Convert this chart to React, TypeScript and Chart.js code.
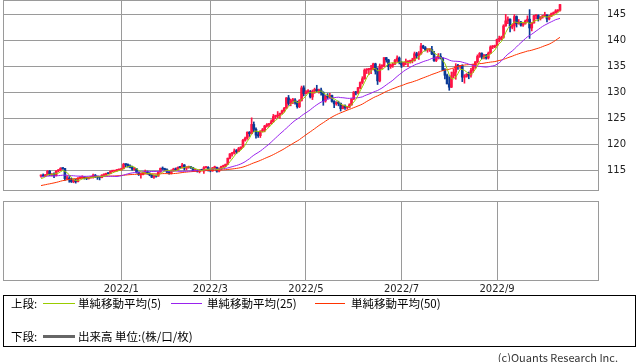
import React, { useEffect, useRef } from 'react';
import { Chart, registerables } from 'chart.js';

Chart.register(...registerables);

// ---- categories: trading weekdays (first 17 and last 17 slots are empty)
const START_DATE = '2021-10-19';
const LEAD_SLOTS = 17;
const TOTAL_SLOTS = 274;

const monthTicks: { date: string; label: string }[] = [
  { date: '2022-01-03', label: '2022/1' },
  { date: '2022-03-01', label: '2022/3' },
  { date: '2022-05-02', label: '2022/5' },
  { date: '2022-07-01', label: '2022/7' },
  { date: '2022-09-01', label: '2022/9' },
];

const yTicks = [115, 120, 125, 130, 135, 140, 145];
const Y_MIN = 111.21;
const Y_MAX = 147.75;

// closes before the first visible candle (needed for the moving averages)
const priorCloses = [
  109.71, 109.83, 110.27, 110.25, 109.71, 109.93, 110.03, 109.68, 109.37, 109.72, 109.95, 109.40, 109.23, 109.78, 110.30, 110.74, 110.99, 111.50, 111.98, 111.29,
  111.05, 110.93, 111.44, 111.39, 111.63, 112.24, 113.30, 113.60, 113.26, 113.68, 114.21, 114.35, 114.39, 114.29, 114.01, 113.47, 113.69, 114.14, 113.84, 113.58, 113.95,
  114.02, 113.95, 114.07, 113.76, 113.40, 112.94, 112.87, 113.90,
];

const opens = [
  113.90, 114.07, 113.89, 114.14, 114.81, 114.09, 114.26, 114.00, 114.88, 115.09, 115.38, 115.35, 113.38, 113.48,
  113.16, 112.79, 113.12, 112.80, 113.48, 113.55, 113.72, 113.48, 113.40, 113.56, 113.72, 114.05, 113.73, 113.69, 113.58, 114.08, 114.12, 114.42, 114.37, 114.83, 114.84, 114.96, 115.08,
  115.08, 115.30, 116.13, 116.11, 115.84, 115.56, 115.20, 115.29, 114.63, 114.18, 114.20, 114.61, 114.62, 114.32, 114.13, 113.67, 113.98, 113.88, 114.67, 115.36, 115.23,
  115.11, 114.67, 114.43, 114.97, 115.24, 115.09, 115.57, 115.55, 116.03, 115.42, 115.58, 115.68, 115.47, 114.92, 115.01, 114.76, 115.03, 115.00, 115.51, 115.56,
  114.98, 114.89, 115.49, 115.54, 114.83, 115.30, 115.73, 115.87, 116.16, 117.33, 118.16, 118.31, 118.70, 118.59, 119.16, 119.48, 120.75, 121.17, 122.32, 122.04, 123.82, 122.89, 121.77,
  121.66, 122.53, 122.79, 123.53, 123.78, 123.98, 124.35, 125.34, 125.40, 125.64, 125.96, 126.44, 126.95, 128.92, 127.85, 128.40, 128.52, 128.11, 127.23, 128.43, 130.85,
  129.75, 130.11, 130.11, 129.10, 130.21, 130.55, 130.27, 130.43, 129.93, 128.34, 129.20, 129.08, 129.38, 128.25, 127.77, 127.87, 127.86, 126.87, 127.35, 127.08, 127.12, 127.58,
  128.69, 130.02, 129.88, 130.88, 131.89, 132.60, 134.27, 134.37, 134.43, 134.43, 135.47, 134.06, 132.19, 135.04, 135.04, 136.67, 136.23, 134.93, 135.22, 135.44, 136.13, 136.59,
  135.72, 135.22, 135.71, 135.87, 135.93, 136.01, 136.10, 137.42, 137.02, 137.41, 138.91, 138.54, 138.14, 138.19, 138.22, 137.36, 136.11, 136.63, 136.94, 136.57, 134.25,
  133.28, 131.62, 130.98, 133.17, 133.88, 135.00, 134.99, 135.11, 132.91, 133.06, 133.47, 133.31, 134.23, 135.10, 135.87, 136.89, 137.48, 136.76, 137.06, 136.60, 137.51, 138.73, 138.75,
  138.95, 140.19, 140.20, 140.56, 142.76, 143.74, 144.07, 142.52, 142.84, 144.57, 143.18, 143.49, 142.91, 143.16, 143.71, 144.06, 142.37, 143.33, 144.74, 144.76, 144.16, 144.46,
  144.74, 144.81, 144.11, 144.63, 145.12, 145.32, 145.65, 145.77,
];

const highs = [
  114.12, 114.30, 114.20, 114.97, 114.97, 114.35, 114.50, 114.92, 115.15, 115.52, 115.42, 115.40, 113.94, 113.80,
  113.50, 113.35, 113.30, 113.58, 113.80, 113.95, 113.75, 113.70, 113.65, 113.80, 114.25, 114.20, 113.85, 113.75, 114.15, 114.30, 114.45, 114.48, 114.85, 114.95, 115.00, 115.15, 115.20,
  115.40, 116.35, 116.20, 116.25, 116.05, 115.80, 115.55, 115.35, 114.70, 114.30, 114.70, 115.05, 114.85, 114.55, 114.20, 114.00, 114.10, 114.75, 115.45, 115.65, 115.40,
  115.30, 114.80, 115.10, 115.40, 115.45, 115.65, 115.70, 116.34, 116.10, 115.70, 115.80, 115.75, 115.55, 115.20, 115.10, 115.15, 115.20, 115.70, 115.75, 115.70,
  115.20, 115.55, 115.80, 115.60, 115.45, 115.80, 116.00, 116.20, 117.35, 118.20, 118.45, 119.10, 119.00, 119.40, 119.50, 120.95, 121.40, 122.40, 122.45, 125.09, 124.30, 123.15, 122.40,
  122.60, 123.05, 123.65, 124.00, 124.05, 124.70, 125.75, 125.60, 126.30, 126.00, 126.60, 127.10, 129.00, 129.40, 128.70, 128.85, 128.80, 128.30, 128.60, 131.20, 131.25,
  130.35, 130.50, 130.35, 130.45, 130.80, 131.35, 130.60, 130.80, 130.10, 129.40, 129.75, 129.80, 129.45, 128.40, 128.20, 128.30, 127.95, 127.55, 127.60, 127.30, 127.80, 128.80,
  130.15, 130.20, 130.95, 132.00, 133.00, 134.50, 134.55, 134.60, 135.20, 135.60, 135.60, 134.70, 135.45, 135.30, 136.70, 136.70, 136.35, 135.40, 135.60, 136.35, 137.00, 136.80,
  135.90, 135.75, 136.40, 136.00, 136.20, 136.55, 137.75, 137.70, 137.85, 139.40, 139.05, 138.80, 138.40, 138.40, 138.85, 137.90, 136.85, 137.45, 137.45, 136.65, 134.55,
  133.50, 133.00, 133.90, 134.50, 135.50, 135.40, 135.20, 135.30, 133.40, 133.60, 133.90, 134.60, 135.45, 135.90, 137.20, 137.65, 137.60, 137.30, 137.30, 137.75, 138.95, 139.00, 139.10,
  140.25, 140.80, 140.80, 143.00, 144.99, 144.50, 144.15, 143.05, 144.95, 144.70, 144.00, 143.65, 143.40, 143.90, 144.70, 145.90, 143.40, 144.80, 144.90, 144.90, 144.55, 144.80,
  145.40, 144.95, 144.80, 145.25, 145.45, 145.90, 145.90, 146.90,
];

const lows = [
  113.70, 113.80, 113.75, 114.02, 114.00, 113.90, 113.60, 113.90, 114.70, 114.92, 115.18, 113.05, 113.20, 112.70,
  112.65, 112.60, 112.53, 112.75, 113.40, 113.40, 113.30, 113.20, 113.30, 113.50, 113.50, 113.60, 113.25, 113.15, 113.55, 113.95, 114.05, 114.30, 114.32, 114.70, 114.75, 114.85, 114.95,
  114.95, 115.25, 115.70, 115.60, 115.45, 115.00, 115.00, 114.45, 114.00, 113.50, 114.10, 114.30, 114.25, 113.95, 113.60, 113.45, 113.70, 113.85, 114.60, 115.15, 115.00,
  114.55, 114.25, 114.30, 114.80, 114.95, 115.05, 115.40, 115.40, 115.05, 115.05, 115.40, 115.35, 114.80, 114.80, 114.65, 114.50, 114.95, 114.40, 115.40, 114.85,
  114.70, 114.80, 115.30, 114.65, 114.70, 115.10, 115.55, 115.70, 116.10, 117.20, 117.70, 118.10, 118.20, 118.55, 119.00, 119.40, 120.60, 120.95, 121.50, 122.00, 122.40, 121.20, 121.30,
  121.30, 122.40, 122.40, 123.30, 123.40, 123.90, 124.20, 124.90, 125.10, 125.00, 125.80, 126.20, 126.90, 127.50, 127.40, 127.80, 127.70, 126.95, 127.05, 128.30, 129.30,
  129.70, 129.85, 128.90, 128.60, 129.80, 130.10, 129.85, 129.45, 127.50, 128.10, 128.80, 128.90, 128.10, 127.05, 127.50, 127.40, 126.40, 126.80, 126.70, 126.75, 127.00, 127.50,
  128.60, 129.50, 129.70, 130.70, 131.60, 132.50, 133.60, 133.40, 133.60, 134.30, 133.50, 131.50, 132.00, 134.50, 134.90, 135.80, 134.30, 134.60, 134.80, 135.30, 135.80, 135.45,
  134.75, 135.00, 135.30, 134.95, 135.60, 135.65, 136.00, 136.55, 136.30, 137.30, 138.40, 137.95, 137.70, 137.85, 137.25, 135.95, 135.90, 136.40, 136.40, 134.15, 132.55,
  131.60, 130.39, 130.90, 132.80, 132.50, 134.40, 134.60, 132.05, 131.75, 132.90, 132.60, 132.90, 133.80, 134.60, 135.70, 136.70, 136.40, 136.40, 136.35, 136.40, 137.50, 138.40, 138.60,
  138.90, 139.70, 140.10, 140.40, 142.70, 143.20, 141.60, 142.20, 141.80, 142.55, 143.10, 142.70, 142.65, 143.10, 143.50, 140.36, 141.80, 143.30, 144.10, 143.70, 143.90, 144.25,
  144.50, 143.55, 143.90, 144.55, 144.90, 145.20, 145.40, 145.60,
];

const closes = [
  114.07, 113.89, 114.14, 114.81, 114.09, 114.26, 114.00, 114.88, 115.09, 115.38, 115.35, 113.38, 113.48, 113.16,
  112.79, 113.12, 112.80, 113.48, 113.55, 113.72, 113.48, 113.40, 113.56, 113.72, 114.05, 113.73, 113.69, 113.58, 114.08, 114.12, 114.42, 114.37, 114.83, 114.84, 114.96, 115.08, 115.08,
  115.30, 116.13, 116.11, 115.84, 115.56, 115.20, 115.29, 114.63, 114.18, 114.20, 114.61, 114.62, 114.32, 114.13, 113.67, 113.98, 113.88, 114.67, 115.36, 115.23, 115.11,
  114.67, 114.43, 114.97, 115.24, 115.09, 115.57, 115.55, 116.03, 115.42, 115.58, 115.68, 115.47, 114.92, 115.01, 114.76, 115.03, 115.00, 115.51, 115.56, 114.98,
  114.89, 115.49, 115.54, 114.83, 115.30, 115.73, 115.87, 116.16, 117.33, 118.16, 118.31, 118.70, 118.59, 119.16, 119.48, 120.75, 121.17, 122.32, 122.04, 123.82, 122.89, 121.77, 121.66,
  122.53, 122.79, 123.53, 123.78, 123.98, 124.35, 125.34, 125.40, 125.64, 125.96, 126.44, 126.95, 128.92, 127.85, 128.40, 128.52, 128.11, 127.23, 128.43, 130.85, 129.75,
  130.11, 130.11, 129.10, 130.21, 130.55, 130.27, 130.43, 129.93, 128.34, 129.20, 129.08, 129.38, 128.25, 127.77, 127.87, 127.86, 126.87, 127.35, 127.08, 127.12, 127.58, 128.69,
  130.02, 129.88, 130.88, 131.89, 132.60, 134.27, 134.37, 134.43, 134.43, 135.47, 134.06, 132.19, 135.04, 135.04, 136.67, 136.23, 134.93, 135.22, 135.44, 136.13, 136.59, 135.72,
  135.22, 135.71, 135.87, 135.93, 136.01, 136.10, 137.42, 137.02, 137.41, 138.91, 138.54, 138.14, 138.19, 138.22, 137.36, 136.11, 136.63, 136.94, 136.57, 134.25, 133.28,
  131.62, 130.98, 133.17, 133.88, 135.00, 134.99, 135.11, 132.91, 133.06, 133.47, 133.31, 134.23, 135.10, 135.87, 136.89, 137.48, 136.76, 137.06, 136.60, 137.51, 138.73, 138.75, 138.95,
  140.19, 140.20, 140.56, 142.76, 143.74, 144.07, 142.52, 142.84, 144.57, 143.18, 143.49, 142.91, 143.16, 143.71, 144.06, 142.37, 143.33, 144.74, 144.76, 144.16, 144.46, 144.74,
  144.81, 144.11, 144.63, 145.12, 145.32, 145.65, 145.77, 146.87,
];

// ---- styles
const UP = '#ff1445';
const DOWN = '#0a3a96';
const GRID = '#9a9a9a';
const MA5_COLOR = '#99cc00';
const MA25_COLOR = '#9922ee';
const MA50_COLOR = '#ff3300';
const TICK_FONT = { family: '"DejaVu Sans", sans-serif', size: 10 };
const JP_FONT = '"Noto Sans CJK JP", "Noto Sans", sans-serif';

function weekdays(start: string, n: number): string[] {
  const out: string[] = [];
  const d = new Date(start + 'T00:00:00Z');
  while (out.length < n) {
    const wd = d.getUTCDay();
    if (wd !== 0 && wd !== 6) out.push(d.toISOString().slice(0, 10));
    d.setUTCDate(d.getUTCDate() + 1);
  }
  return out;
}

function sma(period: number): number[] {
  const all = [...priorCloses, ...closes];
  return closes.map((_, i) => {
    const end = priorCloses.length + i;
    let s = 0;
    for (let k = end - period + 1; k <= end; k++) s += all[k];
    return s / period;
  });
}

function pad<T>(arr: T[]): (T | null)[] {
  const out: (T | null)[] = new Array(TOTAL_SLOTS).fill(null);
  arr.forEach((v, i) => { out[LEAD_SLOTS + i] = v; });
  return out;
}

const framePlugin = {
  id: 'frame',
  beforeDatasetsDraw(chart: any) {
    const { ctx, chartArea: a } = chart;
    ctx.save();
    ctx.strokeStyle = GRID;
    ctx.lineWidth = 1;
    const l = Math.round(a.left) + 0.5;
    const t = Math.round(a.top) + 0.5;
    const r = Math.round(a.right) + 0.5;
    const b = Math.round(a.bottom) + 0.5;
    ctx.strokeRect(l, t, r - l, b - t);
    ctx.restore();
  },
};

export default function App() {
  const topRef = useRef<HTMLCanvasElement>(null);
  const botRef = useRef<HTMLCanvasElement>(null);

  useEffect(() => {
    const labels = weekdays(START_DATE, TOTAL_SLOTS);
    const monthIdx = new Map<number, string>();
    monthTicks.forEach((m) => {
      const i = labels.indexOf(m.date);
      if (i >= 0) monthIdx.set(i, m.label);
    });
    const gridColor = (ctx: any) => (monthIdx.has(ctx.index) ? GRID : 'rgba(0,0,0,0)');

    const colors = pad(closes.map((c, i) => (c >= opens[i] ? UP : DOWN)));
    const wicks = pad(closes.map((_, i) => [lows[i], highs[i]]));
    const bodies = pad(closes.map((c, i) => [opens[i], c]));

    const lineDs = (label: string, data: number[], color: string, order: number) => ({
      type: 'line' as const,
      label,
      data: pad(data),
      borderColor: color,
      borderWidth: 1,
      pointRadius: 0,
      tension: 0,
      spanGaps: false,
      order,
    });

    const top = new Chart(topRef.current as HTMLCanvasElement, {
      type: 'bar',
      data: {
        labels,
        datasets: [
          lineDs('MA5', sma(5), MA5_COLOR, 0),
          lineDs('MA25', sma(25), MA25_COLOR, 1),
          lineDs('MA50', sma(50), MA50_COLOR, 2),
          {
            type: 'bar',
            label: 'body',
            data: bodies as any,
            backgroundColor: colors as any,
            barThickness: 2,
            minBarLength: 1,
            grouped: false,
            order: 3,
          },
          {
            type: 'bar',
            label: 'wick',
            data: wicks as any,
            backgroundColor: colors as any,
            barThickness: 1,
            grouped: false,
            order: 4,
          },
        ] as any,
      },
      options: {
        animation: false,
        responsive: false,
        maintainAspectRatio: false,
        events: [],
        layout: { padding: { left: 3, top: 0, right: 0, bottom: 2 } },
        plugins: { legend: { display: false }, tooltip: { enabled: false } },
        scales: {
          x: {
            type: 'category',
            offset: true,
            grid: { offset: false, drawTicks: false, color: gridColor, lineWidth: 1 },
            border: { display: false },
            ticks: { display: false, autoSkip: false },
            afterFit: (s: any) => { s.height = 0; s.paddingLeft = 0; s.paddingRight = 0; },
          },
          y: {
            position: 'right',
            min: Y_MIN,
            max: Y_MAX,
            grid: { color: GRID, drawTicks: false, lineWidth: 1 },
            border: { display: false },
            ticks: { font: TICK_FONT, color: '#222', padding: 9 },
            afterBuildTicks: (s: any) => { s.ticks = yTicks.map((v) => ({ value: v })); },
            afterFit: (s: any) => { s.width = 40; s.paddingTop = 0; s.paddingBottom = 0; },
          },
        },
      } as any,
      plugins: [framePlugin],
    });

    const bot = new Chart(botRef.current as HTMLCanvasElement, {
      type: 'bar',
      data: { labels, datasets: [] },
      options: {
        animation: false,
        responsive: false,
        maintainAspectRatio: false,
        events: [],
        layout: { padding: { left: 3, top: 5, right: 40, bottom: 0 } },
        plugins: { legend: { display: false }, tooltip: { enabled: false } },
        scales: {
          x: {
            type: 'category',
            offset: true,
            grid: { offset: false, drawTicks: false, color: gridColor, lineWidth: 1 },
            border: { display: false },
            ticks: {
              autoSkip: false,
              maxRotation: 0,
              minRotation: 0,
              padding: 3,
              font: TICK_FONT,
              color: '#222',
              callback: (_v: any, i: number) => monthIdx.get(i) ?? '',
            },
            afterFit: (s: any) => { s.height = 20; s.paddingLeft = 0; s.paddingRight = 0; },
          },
          y: { display: false, min: 0, max: 1 },
        },
      } as any,
      plugins: [framePlugin],
    });

    return () => {
      top.destroy();
      bot.destroy();
    };
  }, []);

  const txt = (left: number, top: number, s: string, extra: React.CSSProperties = {}) => (
    <span
      style={{
        position: 'absolute',
        left,
        top,
        fontFamily: JP_FONT,
        fontSize: 11.5,
        lineHeight: '14px',
        whiteSpace: 'nowrap',
        color: '#000',
        ...extra,
      }}
    >
      {s}
    </span>
  );
  const swatch = (left: number, top: number, width: number, height: number, color: string) => (
    <div style={{ position: 'absolute', left, top, width, height, background: color }} />
  );

  return (
    <div style={{ position: 'fixed', left: 0, top: 0, width: 638, height: 362, background: '#fff', overflow: 'hidden' }}>
      <canvas ref={topRef} width={638} height={192} style={{ position: 'absolute', left: 0, top: 0 }} />
      <canvas ref={botRef} width={638} height={104} style={{ position: 'absolute', left: 0, top: 196 }} />
      <div
        style={{
          position: 'absolute',
          left: 3,
          top: 295,
          width: 633,
          height: 52,
          border: '1px solid #000',
          boxSizing: 'border-box',
        }}
      />
      {txt(11, 296, '上段:')}
      {swatch(43, 303, 32, 1, MA5_COLOR)}
      {txt(78, 296, '単純移動平均(5)')}
      {swatch(171, 303, 31, 1, MA25_COLOR)}
      {txt(207, 296, '単純移動平均(25)')}
      {swatch(315, 303, 30, 1, MA50_COLOR)}
      {txt(351, 296, '単純移動平均(50)')}
      {txt(11, 329, '下段:')}
      {swatch(43, 335, 32, 3, '#666')}
      {txt(78, 329, '出来高 単位:(株/口/枚)')}
      {txt(0, 350, '(c)Quants Research Inc.', { left: 'auto', right: 20, fontSize: 11, color: '#333' } as any)}
    </div>
  );
}
